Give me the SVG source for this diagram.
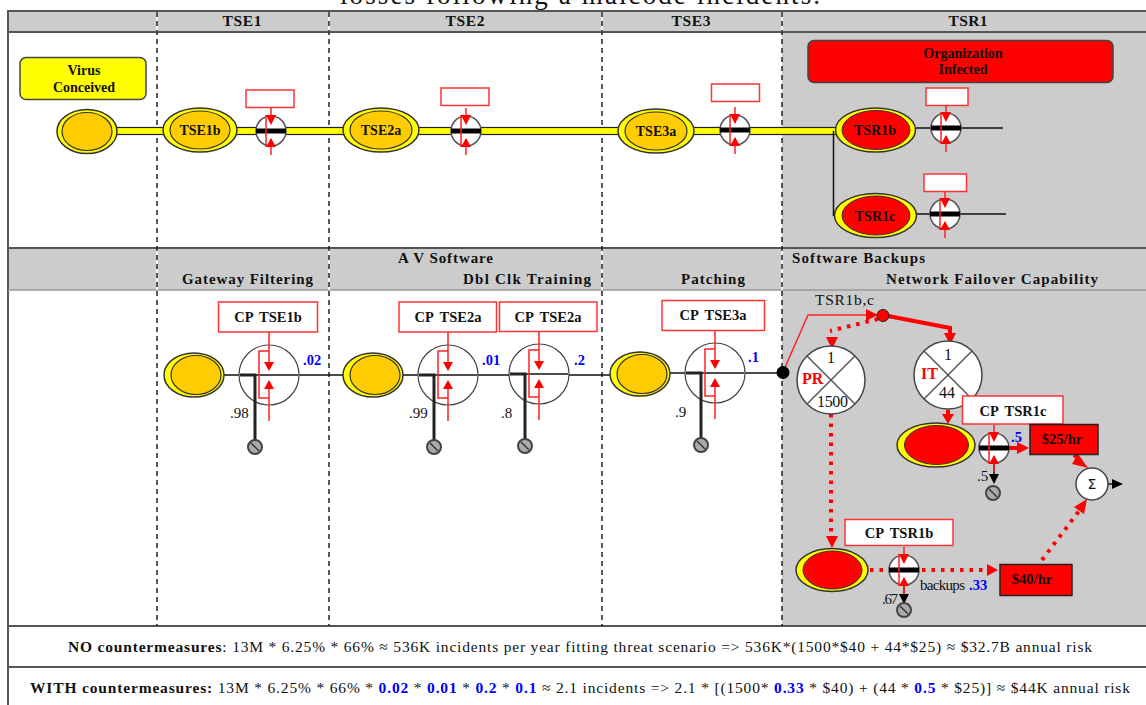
<svg xmlns="http://www.w3.org/2000/svg" width="1146" height="705" viewBox="0 0 1146 705">
<style>
text{font-family:"Liberation Serif","Times New Roman",serif;fill:#111}
.hd{font-size:15.500px;font-weight:bold;text-anchor:middle}
.sh{font-size:15px;font-weight:bold}
.nl{font-size:14px;font-weight:bold;text-anchor:middle}
.cp{font-size:14.500px;font-weight:bold;text-anchor:middle;word-spacing:3px}
.bl{font-size:14.500px;font-weight:bold;fill:#00f}
.pr{font-size:15px}
.big{font-size:16px;text-anchor:middle}
.rl{font-size:16px;font-weight:bold;fill:#f00}
.ft{font-size:15.500px}
.b{font-weight:bold}
.bb{font-weight:bold;fill:#00f}
.fr{stroke:#555;stroke-width:2;fill:none}
.dash{stroke:#222;stroke-width:1.5;stroke-dasharray:5 4;fill:none}
.box{fill:#fff;stroke:#f33;stroke-width:1.5}
.oy{fill:#ff0;stroke:#333;stroke-width:1.5}
.io{fill:#fc0;stroke:#333;stroke-width:1.2}
.ir{fill:#f00;stroke:#333;stroke-width:1}
.rline{stroke:#f22;stroke-width:1.5;fill:none}
.rthick{stroke:#f00;stroke-width:4;fill:none}
.rdot{stroke:#f00;stroke-width:4;fill:none;stroke-dasharray:3.500 6}
.blk{stroke:#111;stroke-width:1.500;fill:none}
.ra{fill:#f00}
.cost{fill:#f00;stroke:#222;stroke-width:1.500}
.ev{fill:#ff0;stroke:#444;stroke-width:1.500}
.evr{fill:#f00;stroke:#444;stroke-width:1.500}
</style>
<defs>
<g id="term"><circle r="7" fill="#aaa" stroke="#444" stroke-width="2"/><path d="M-4-4 4 4" stroke="#333" stroke-width="1.500"/></g>
<g id="gate">
<circle r="15" fill="#fff" stroke="#555" stroke-width="1.500"/>
<rect x="-15" y="-2.500" width="30" height="5" fill="#000"/>
<path class="rline" d="M0-23V-8M0 24V8M-5-16V16"/>
<path class="ra" d="M-5-16H5L0-6ZM-5 16H5L0 7Z"/>
</g>
<g id="bgate">
<circle r="30" fill="#fff" stroke="#444" stroke-width="1.200"/>
<path class="blk" d="M-29 0H29"/>
<path d="M-29 0H-14V65" stroke="#222" stroke-width="3" fill="none"/>
<path class="rline" d="M0-43V-10M0 46V10M0-24H-10V23H0"/>
<path class="ra" d="M-5-13H5L0-4ZM-5 14H5L0 5Z"/>
<use href="#term" x="-14" y="72"/>
</g>
<g id="cross">
<circle r="34" fill="#fff" stroke="#444" stroke-width="1.500"/>
<path d="M-24-24 24 24M24-24-24 24" stroke="#555" stroke-width="1.500"/>
</g>
</defs>

<rect width="1146" height="705" fill="#fff"/>
<rect x="8" y="12" width="1138" height="20" fill="#ccc"/>
<rect x="8" y="248" width="1138" height="42" fill="#ccc"/>
<rect x="782" y="32" width="364" height="594" fill="#ccc"/>

<text x="580" y="4" font-size="27" text-anchor="middle" textLength="480">losses following a malcode incidents.</text>

<g id="grid">
<path class="fr" d="M8 705V11H1146M8 32H1146M8 248H1146M8 626H1146M8 667H1146"/>
<path d="M8 290H1146" stroke="#999" stroke-width="1.500"/>
<path d="M157 12V32M329 12V32M602 12V32M782 12V32M157 249V290M329 249V290M602 249V290M782 249V290" stroke="#fff" stroke-width="1.500"/>
<path class="dash" d="M157 12V626M329 12V626M602 12V626M782 12V626"/>
</g>

<g id="headers">
<text class="hd" x="242" y="26" textLength="39">TSE1</text>
<text class="hd" x="465" y="26" textLength="39">TSE2</text>
<text class="hd" x="691" y="26" textLength="39">TSE3</text>
<text class="hd" x="968" y="26" textLength="39">TSR1</text>
<text class="sh" x="398" y="263" textLength="95">A V Software</text>
<text class="sh" x="182" y="284" textLength="131">Gateway Filtering</text>
<text class="sh" x="463" y="284" textLength="128">Dbl Clk Training</text>
<text class="sh" x="681" y="284" textLength="64">Patching</text>
<text class="sh" x="792" y="263" textLength="133">Software Backups</text>
<text class="sh" x="886" y="284" textLength="212">Network Failover Capability</text>
</g>

<g id="connectors">
<rect x="115" y="127.500" width="722" height="7" fill="#ff0" stroke="#222" stroke-width="1.200"/>
<path class="blk" d="M833.500 131V215.500H838M916 128H1003M914 214H1006" stroke-width="2"/>
<path class="blk" d="M224 375H343M403 375H610M670 373H783"/>
<path class="rline" d="M783 372 808 315H870"/>
<path class="ra" d="M866 309 878 315 866 321Z"/>
<path class="rthick" d="M883 315 950 328V335"/>
<path class="ra" d="M944 333H956L950 345Z"/>
<path class="rdot" d="M878 319 830 331"/>
<path class="ra" d="M826 337H838L832 349Z"/>
<path class="rthick" d="M948 410V416"/>
<path class="ra" d="M942 414H954L948 424Z"/>
<path class="rdot" d="M831 414V536"/>
<path class="ra" d="M826 536H838L832 548Z"/>
<path class="rthick" d="M1009 448H1018"/>
<path class="ra" d="M1017 442 1029 448 1017 454Z"/>
<path class="rthick" d="M1074 455 1081 461"/>
<path class="ra" d="M1078 454 1088 468 1072 464Z"/>
<path class="rdot" d="M1042 560 1079 511"/>
<path class="ra" d="M1074 507 1087 499 1084 514Z"/>
<path class="rdot" d="M870 570H888M922 570H986"/>
<path class="ra" d="M987 564 998 570 987 576Z"/>
<path class="blk" d="M1108 484H1114"/>
<path d="M1112 479 1123 484 1112 489Z" fill="#000"/>
<path class="blk" d="M994 463V476M904 585V596"/>
<path d="M989 474H999L994 484ZM899 594H909L904 604Z" fill="#000"/>
</g>

<g id="virus-conceived"><rect class="ev" x="20" y="57.500" width="126" height="42" rx="6"/><text class="nl" x="84" y="75">Virus</text><text class="nl" x="84" y="92">Conceived</text></g>
<g id="org-infected"><rect class="evr" x="808" y="40.500" width="305" height="42" rx="6"/><text class="nl" x="963" y="58">Organization</text><text class="nl" x="963" y="74">Infected</text></g>

<g id="top-start"><ellipse class="oy" cx="87" cy="131.500" rx="30" ry="22"/><ellipse class="io" cx="87" cy="131.500" rx="25" ry="19"/></g>
<g id="TSE1b"><ellipse class="oy" cx="200" cy="130" rx="37" ry="22"/><ellipse class="io" cx="200" cy="130" rx="30" ry="19"/><text class="nl" x="200" y="135">TSE1b</text></g>
<g id="TSE2a"><ellipse class="oy" cx="381" cy="130" rx="38" ry="22"/><ellipse class="io" cx="381" cy="130" rx="31" ry="19"/><text class="nl" x="381" y="135">TSE2a</text></g>
<g id="TSE3a"><ellipse class="oy" cx="656" cy="131" rx="38" ry="22"/><ellipse class="io" cx="656" cy="131" rx="31" ry="19"/><text class="nl" x="656" y="136">TSE3a</text></g>
<g id="TSR1b"><ellipse class="oy" cx="875.500" cy="130" rx="40" ry="22"/><ellipse class="ir" cx="876" cy="130" rx="34" ry="19.500"/><text class="nl" x="875" y="135">TSR1b</text></g>
<g id="TSR1c"><ellipse class="oy" cx="875.500" cy="215.500" rx="41" ry="22"/><ellipse class="ir" cx="876" cy="215.500" rx="34" ry="19.500"/><text class="nl" x="875" y="221">TSR1c</text></g>

<g id="top-gate-1"><rect class="box" x="246" y="90" width="48" height="17.500"/><use href="#gate" x="271" y="131"/></g>
<g id="top-gate-2"><rect class="box" x="441" y="88" width="48" height="17.500"/><use href="#gate" x="466" y="131"/></g>
<g id="top-gate-3"><rect class="box" x="711.500" y="84" width="48" height="17.500"/><use href="#gate" x="735" y="130"/></g>
<g id="top-gate-4"><rect class="box" x="926" y="88" width="42" height="17.500"/><use href="#gate" x="946" y="128"/></g>
<g id="top-gate-5"><rect class="box" x="924" y="174" width="42.500" height="17.500"/><use href="#gate" x="945" y="214"/></g>

<g id="low-event-1"><ellipse class="oy" cx="194" cy="375" rx="30" ry="22"/><ellipse class="io" cx="196" cy="375" rx="25" ry="19.500"/></g>
<g id="low-event-2"><ellipse class="oy" cx="373" cy="375" rx="30" ry="22"/><ellipse class="io" cx="375" cy="375" rx="25" ry="19.500"/></g>
<g id="low-event-3"><ellipse class="oy" cx="640" cy="374" rx="30" ry="22"/><ellipse class="io" cx="642" cy="374" rx="25" ry="19.500"/></g>

<g id="CP-TSE1b"><use href="#bgate" x="269" y="375"/><rect class="box" x="218.500" y="302" width="99" height="30"/><text class="cp" x="268" y="322">CP TSE1b</text><text class="bl" x="303" y="365">.02</text><text class="pr" x="230" y="418">.98</text></g>
<g id="CP-TSE2a-1"><use href="#bgate" x="448" y="375"/><rect class="box" x="399" y="302" width="97.500" height="30"/><text class="cp" x="448" y="322">CP TSE2a</text><text class="bl" x="482" y="365">.01</text><text class="pr" x="409" y="418">.99</text></g>
<g id="CP-TSE2a-2"><use href="#bgate" x="539" y="374"/><rect class="box" x="499.500" y="302" width="97.500" height="29.500"/><text class="cp" x="548" y="322">CP TSE2a</text><text class="bl" x="574" y="365">.2</text><text class="pr" x="501" y="418">.8</text></g>
<g id="CP-TSE3a"><use href="#bgate" x="715" y="373"/><rect class="box" x="662" y="300.500" width="102.500" height="30"/><text class="cp" x="713" y="320">CP TSE3a</text><text class="bl" x="748" y="362">.1</text><text class="pr" x="675" y="417">.9</text></g>

<g id="junction"><circle cx="783" cy="372.500" r="6.500" fill="#000"/></g>
<g id="TSR1bc"><text x="815" y="305" font-size="15.500" textLength="59">TSR1b,c</text><circle cx="883" cy="315.500" r="6" fill="#f00" stroke="#222"/></g>

<g id="PR"><use href="#cross" x="831" y="380"/><text class="rl" x="802" y="384">PR</text><text class="big" x="831" y="363">1</text><text class="big" x="832.500" y="407" textLength="31">1500</text></g>
<g id="IT"><use href="#cross" x="948" y="375"/><text class="rl" x="921" y="379">IT</text><text class="big" x="948" y="360">1</text><text class="big" x="947" y="398" textLength="16">44</text></g>

<g id="TSR1c-outcome"><ellipse class="oy" cx="936" cy="445" rx="39" ry="22"/><ellipse class="ir" cx="936.500" cy="445" rx="32" ry="19.500"/></g>
<g id="CP-TSR1c"><use href="#gate" x="994" y="448"/><rect class="box" x="962.500" y="396" width="100.500" height="28"/><text class="cp" x="1013" y="416">CP TSR1c</text><text class="bl" x="1011" y="442" font-size="15">.5</text><text class="pr" x="977" y="481">.5</text><use href="#term" x="993" y="493"/></g>
<g id="cost-25"><rect class="cost" x="1030" y="424.500" width="68" height="30"/><text x="1062" y="444" font-size="14.500" font-weight="bold" text-anchor="middle">$25/hr</text></g>

<g id="sum"><circle cx="1092" cy="484" r="16" fill="#fff" stroke="#444" stroke-width="1.500"/><text x="1092" y="489" font-size="14" text-anchor="middle" style="font-family:'DejaVu Sans',sans-serif">Σ</text></g>

<g id="TSR1b-outcome"><ellipse class="oy" cx="832" cy="570" rx="36" ry="21.500"/><ellipse class="ir" cx="832.500" cy="570" rx="29.500" ry="19"/></g>
<g id="CP-TSR1b"><use href="#gate" x="904" y="570"/><rect class="box" x="845" y="519.500" width="108" height="26"/><text class="cp" x="899" y="538">CP TSR1b</text><text class="pr" x="920" y="590" textLength="45">backups</text><text class="bl" x="969" y="590">.33</text><text class="pr" x="882" y="604" textLength="16">.67</text><use href="#term" x="904" y="610"/></g>
<g id="cost-40"><rect class="cost" x="1000" y="564.500" width="72" height="31"/><text x="1032" y="584" font-size="14.500" font-weight="bold" text-anchor="middle">$40/hr</text></g>

<g id="footer">
<text class="ft" x="68" y="652" textLength="1024"><tspan class="b">NO countermeasures</tspan>: 13M * 6.25% * 66% ≈ 536K incidents per year fitting threat scenario =&gt; 536K*(1500*$40 + 44*$25) ≈ $32.7B annual risk</text>
<text class="ft" x="30" y="693" textLength="1100"><tspan class="b">WITH countermeasures:</tspan> 13M * 6.25% * 66% * <tspan class="bb">0.02</tspan> * <tspan class="bb">0.01</tspan> * <tspan class="bb">0.2</tspan> * <tspan class="bb">0.1</tspan> ≈ 2.1 incidents =&gt; 2.1 * [(1500* <tspan class="bb">0.33</tspan> * $40) + (44 * <tspan class="bb">0.5</tspan> * $25)] ≈ $44K annual risk</text>
</g>
</svg>
